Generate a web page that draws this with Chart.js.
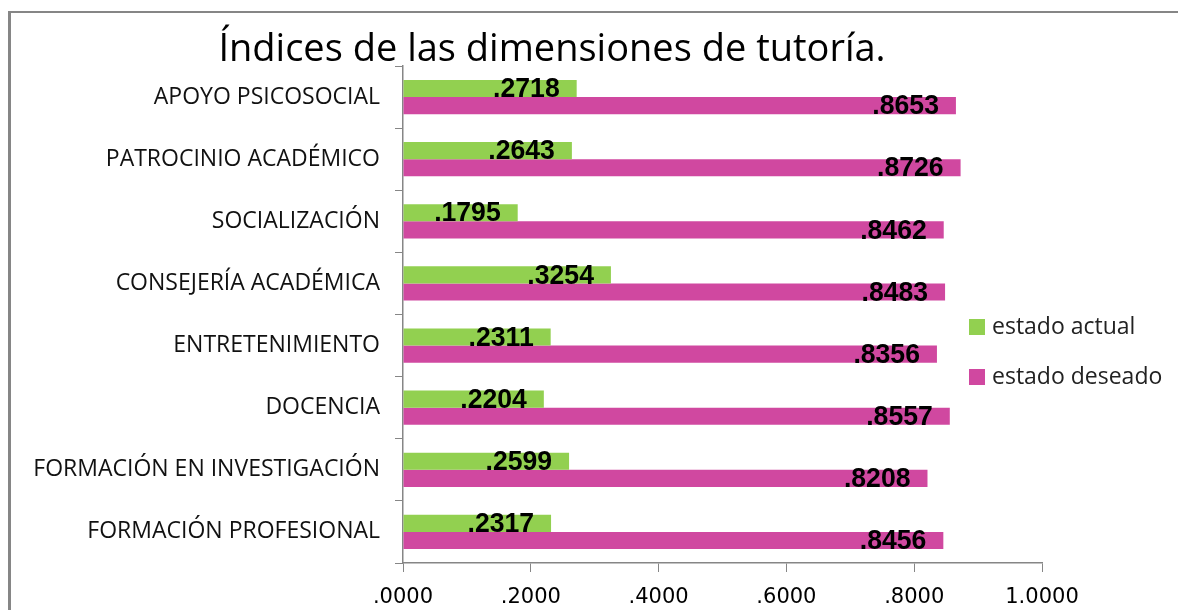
<!DOCTYPE html>
<html>
<head>
<meta charset="utf-8">
<script src="https://cdn.jsdelivr.net/npm/chart.js@4.4.0/dist/chart.umd.min.js"></script>
<style>
  html, body { margin: 0; padding: 0; background: #fff; }
  #wrap { width: 1178px; height: 610px; position: relative; }
</style>
</head>
<body>
<div id="wrap"><canvas id="barChart"></canvas></div>
<script>
// datos del gráfico
const titulo = 'Índices de las dimensiones de tutoría.';
const categorias = ['APOYO PSICOSOCIAL', 'PATROCINIO ACADÉMICO', 'SOCIALIZACIÓN', 'CONSEJERÍA ACADÉMICA',
    'ENTRETENIMIENTO', 'DOCENCIA', 'FORMACIÓN EN INVESTIGACIÓN', 'FORMACIÓN PROFESIONAL'];
const estadoActual = [0.2718, 0.2643, 0.1795, 0.3254, 0.2311, 0.2204, 0.2599, 0.2317];
const estadoDeseado = [0.8653, 0.8726, 0.8462, 0.8483, 0.8356, 0.8557, 0.8208, 0.8456];
const nombresSeries = ['estado actual', 'estado deseado'];
const ticksX = [0, 0.2, 0.4, 0.6, 0.8, 1.0];

const verde = '#92D050';
const magenta = '#D048A0';
const gris = '#868686';

function fmt(v) {
    // formato tipo ".2718" / "1.0000"
    const s = v.toFixed(4);
    return s.startsWith('0') ? s.slice(1) : s;
}

// marco, título, etiquetas de datos y leyenda
const extras = {
    id: 'extras',
    beforeDraw(chart) {
        const ctx = chart.ctx;
        ctx.save();
        ctx.fillStyle = gris;
        ctx.fillRect(8, 11, 3, 610);
        ctx.fillRect(8, 11, 1178, 2);
        ctx.fillStyle = '#000';
        ctx.font = '38px "Open Sans", sans-serif';
        ctx.textAlign = 'center';
        ctx.textBaseline = 'alphabetic';
        ctx.fillText(titulo, 552, 61);
        ctx.restore();
    },
    afterDatasetsDraw(chart) {
        const ctx = chart.ctx;
        ctx.save();
        ctx.font = 'bold 28px "Liberation Sans", Arial, sans-serif';
        ctx.fillStyle = '#000';
        ctx.textAlign = 'right';
        ctx.textBaseline = 'middle';
        chart.data.datasets.forEach((ds, i) => {
            chart.getDatasetMeta(i).data.forEach((bar, j) => {
                ctx.save();
                ctx.translate(bar.x - 17, bar.y + 1);
                ctx.scale(0.95, 1);
                ctx.fillText(fmt(ds.data[j]), 0, 0);
                ctx.restore();
            });
        });
        // leyenda
        ctx.textAlign = 'left';
        ctx.font = '23px "Open Sans", sans-serif';
        chart.data.datasets.forEach((ds, i) => {
            const y = 327 + i * 50;
            ctx.fillStyle = ds.backgroundColor;
            ctx.fillRect(969, y - 8, 16, 16);
            ctx.fillStyle = '#222';
            ctx.fillText(ds.label, 992, y);
        });
        ctx.restore();
    }
};

new Chart(document.getElementById('barChart').getContext('2d'), {
    type: 'bar',
    data: {
        labels: categorias,
        datasets: [{
            label: nombresSeries[0],
            data: estadoActual,
            backgroundColor: verde,
            categoryPercentage: 0.55,
            barPercentage: 1.0
        }, {
            label: nombresSeries[1],
            data: estadoDeseado,
            backgroundColor: magenta,
            categoryPercentage: 0.55,
            barPercentage: 1.0
        }]
    },
    options: {
        indexAxis: 'y',
        responsive: true,
        maintainAspectRatio: false,
        animation: false,
        layout: { padding: { left: 0, right: 136, top: 66, bottom: 0 } },
        plugins: {
            legend: { display: false },
            tooltip: { enabled: false },
            title: { display: false }
        },
        scales: {
            x: {
                min: 0,
                max: 1,
                afterBuildTicks(scale) { scale.ticks = ticksX.map(v => ({ value: v })); },
                afterFit(scale) { scale.height = 47; },
                border: { color: gris, width: 1.5 },
                grid: { drawOnChartArea: false, drawTicks: true, tickLength: 9, color: gris },
                ticks: {
                    color: '#000',
                    padding: 13,
                    font: { family: '"DejaVu Sans", sans-serif', size: 21 },
                    callback: v => fmt(v)
                }
            },
            y: {
                afterFit(scale) { scale.width = 403; },
                border: { color: gris, width: 1.5 },
                grid: { drawOnChartArea: false, drawTicks: true, tickLength: 8, color: gris, offset: true },
                ticks: {
                    color: '#111',
                    padding: 15,
                    font: { family: '"Open Sans", sans-serif', size: 23 }
                }
            }
        }
    },
    plugins: [extras]
});
</script>
</body>
</html>
